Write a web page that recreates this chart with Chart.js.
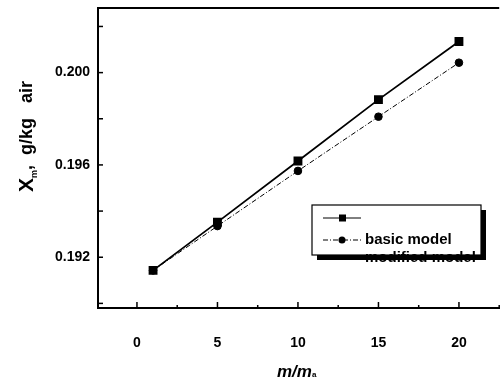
<!DOCTYPE html>
<html>
<head>
<meta charset="utf-8">
<script src="https://cdn.jsdelivr.net/npm/chart.js@4/dist/chart.umd.min.js"></script>
<style>
  html, body { margin: 0; padding: 0; background: #fff; overflow: hidden; }
  #wrap { width: 506px; height: 380px; }
</style>
</head>
<body>
<div id="wrap"><canvas id="xmChart" width="506" height="380"></canvas></div>
<script>
const ratios = [1, 5, 10, 15, 20];
const basicModel = [0.19143, 0.19352, 0.19617, 0.19883, 0.20135];
const modifiedModel = [0.19143, 0.19335, 0.19574, 0.19809, 0.20043];
const xTickLabels = [0, 5, 10, 15, 20];
const yTickLabels = [0.192, 0.196, 0.200];
const seriesNames = ['basic model', 'modified model'];

const FONT = '"Liberation Sans", Arial, sans-serif';

// frame, inward tick marks, axis titles and the odd legend box of the scan
const decorations = {
    id: 'decorations',
    afterDraw(chart) {
        const ctx = chart.ctx;
        const area = chart.chartArea;
        const xs = chart.scales.x;
        const ys = chart.scales.y;

        ctx.save();
        ctx.strokeStyle = '#000';
        ctx.lineWidth = 2;
        ctx.beginPath();
        ctx.moveTo(area.left, area.top);
        ctx.lineTo(area.right, area.top);
        ctx.stroke();

        ctx.lineWidth = 1.5;
        for (let v = 0; v <= 22.5; v += 2.5) {
            const px = xs.getPixelForValue(v);
            const len = v % 5 === 0 ? 6 : 3;
            ctx.beginPath();
            ctx.moveTo(px, area.bottom);
            ctx.lineTo(px, area.bottom - len);
            ctx.stroke();
        }
        for (let v = 0.190; v <= 0.2025; v += 0.002) {
            const py = ys.getPixelForValue(v);
            ctx.beginPath();
            ctx.moveTo(area.left, py);
            ctx.lineTo(area.left + 5, py);
            ctx.stroke();
        }

        // y title
        ctx.fillStyle = '#000';
        ctx.save();
        ctx.translate(27, 192);
        ctx.rotate(-Math.PI / 2);
        ctx.textBaseline = 'middle';
        ctx.textAlign = 'left';
        ctx.font = 'bold 21px ' + FONT;
        ctx.fillText('X', 0, 0);
        let w = ctx.measureText('X').width;
        ctx.font = 'bold 9px ' + FONT;
        ctx.fillText('m', w, 8);
        w += ctx.measureText('m').width;
        ctx.font = 'bold 18px ' + FONT;
        ctx.fillText(',  g/kg   air', w, 0);
        ctx.restore();

        // x title
        ctx.save();
        ctx.textBaseline = 'middle';
        ctx.textAlign = 'left';
        ctx.font = 'italic bold 17px ' + FONT;
        ctx.fillText('m/m', 277, 372);
        const mw = ctx.measureText('m/m').width;
        ctx.font = 'bold 8px ' + FONT;
        ctx.fillText('a', 277 + mw, 375);
        ctx.restore();

        // legend box with drop shadow
        const bx = 312, by = 205, bw = 169, bh = 50;
        ctx.fillStyle = '#000';
        ctx.fillRect(bx + 5, by + 5, bw, bh);
        ctx.fillStyle = '#fff';
        ctx.fillRect(bx, by, bw, bh);
        ctx.strokeStyle = '#000';
        ctx.lineWidth = 1.2;
        ctx.strokeRect(bx, by, bw, bh);

        const rows = [218, 240];
        chart.data.datasets.forEach((ds, i) => {
            const y = rows[i];
            ctx.save();
            ctx.strokeStyle = '#000';
            ctx.lineWidth = 1;
            ctx.setLineDash(ds.borderDash || []);
            ctx.beginPath();
            ctx.moveTo(323, y);
            ctx.lineTo(361, y);
            ctx.stroke();
            ctx.restore();
            ctx.fillStyle = '#000';
            if (ds.pointStyle === 'rect') {
                ctx.fillRect(339, y - 3.5, 7, 7);
            } else {
                ctx.beginPath();
                ctx.arc(342, y, 3.5, 0, Math.PI * 2);
                ctx.fill();
            }
        });
        ctx.fillStyle = '#000';
        ctx.font = 'bold 15px ' + FONT;
        ctx.textBaseline = 'middle';
        ctx.textAlign = 'left';
        ctx.fillText(seriesNames[0], 365, 240);
        ctx.fillText(seriesNames[1], 365, 258);
        ctx.restore();
    }
};

new Chart(document.getElementById('xmChart').getContext('2d'), {
    type: 'line',
    data: {
        datasets: [{
            label: seriesNames[0],
            data: ratios.map((x, i) => ({ x: x, y: basicModel[i] })),
            borderColor: '#000',
            backgroundColor: '#000',
            borderWidth: 1.8,
            pointStyle: 'rect',
            pointRadius: 5,
            tension: 0
        }, {
            label: seriesNames[1],
            data: ratios.map((x, i) => ({ x: x, y: modifiedModel[i] })),
            borderColor: '#000',
            backgroundColor: '#000',
            borderWidth: 1,
            borderDash: [5, 2, 1, 2],
            pointStyle: 'circle',
            pointRadius: 3.8,
            tension: 0
        }]
    },
    options: {
        responsive: false,
        animation: false,
        layout: { padding: { top: 8, right: 2, left: 0, bottom: 0 } },
        plugins: {
            legend: { display: false },
            tooltip: { enabled: false }
        },
        scales: {
            x: {
                type: 'linear',
                min: -2.42,
                max: 22.5,
                afterBuildTicks: scale => { scale.ticks = xTickLabels.map(v => ({ value: v })); },
                afterFit: scale => {
                    scale.height = 72;
                    scale.paddingLeft = 0;
                    scale.paddingRight = 0;
                },
                grid: { display: false, drawTicks: false },
                border: { display: true, color: '#000', width: 2 },
                ticks: {
                    color: '#000',
                    padding: 27,
                    maxRotation: 0,
                    font: { family: FONT, size: 14, weight: 'bold' }
                }
            },
            y: {
                type: 'linear',
                min: 0.1898,
                max: 0.2028,
                afterBuildTicks: scale => { scale.ticks = yTickLabels.map(v => ({ value: v })); },
                afterFit: scale => {
                    scale.width = 98;
                    scale.paddingTop = 0;
                    scale.paddingBottom = 0;
                },
                grid: { display: false, drawTicks: false },
                border: { display: true, color: '#000', width: 2 },
                ticks: {
                    color: '#000',
                    padding: 8,
                    callback: v => v.toFixed(3),
                    font: { family: FONT, size: 14, weight: 'bold' }
                }
            }
        }
    },
    plugins: [decorations]
});
</script>
</body>
</html>
